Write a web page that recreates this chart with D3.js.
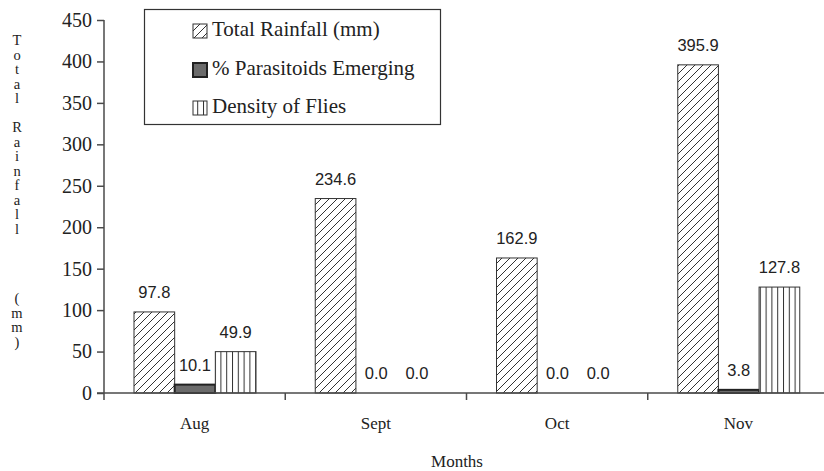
<!DOCTYPE html>
<html><head><meta charset="utf-8">
<script src="https://cdn.jsdelivr.net/npm/d3@7"></script>
<style>body{margin:0;background:#fff}svg{display:block}</style>
</head><body>
<svg id="c" width="824" height="471"></svg>
<script>
const months = ["Aug", "Sept", "Oct", "Nov"];
const seriesNames = ["Total Rainfall (mm)", "% Parasitoids Emerging", "Density of Flies"];
const rainfall = [97.8, 234.6, 162.9, 395.9];
const parasitoids = [10.1, 0.0, 0.0, 3.8];
const flies = [49.9, 0.0, 0.0, 127.8];
const yTicks = [0, 50, 100, 150, 200, 250, 300, 350, 400, 450];
const yTitleGroups = ["Total", "Rainfall", "(mm)"];
const xTitle = "Months";

const svg = d3.select("#c");
const serif = "Liberation Serif, Times New Roman, serif";
const sans = "Liberation Sans, Arial, sans-serif";
const axisColor = "#4a4a4a";

const y = d3.scaleLinear().domain([0, 450]).range([393, 20]);
const x = d3.scaleBand().domain(months).range([104, 829]).paddingInner(0).paddingOuter(0);
const inner = d3.scaleBand().domain(seriesNames).range([30, 152]);

// patterns
const defs = svg.append("defs");
const diag = defs.append("pattern").attr("id", "diag").attr("patternUnits", "userSpaceOnUse")
  .attr("width", 8).attr("height", 8);
diag.append("rect").attr("width", 8).attr("height", 8).attr("fill", "#fff");
diag.append("path").attr("d", "M-2,2 L2,-2 M0,8 L8,0 M6,10 L10,6").attr("stroke", "#333").attr("stroke-width", 1);
const vert = defs.append("pattern").attr("id", "vert").attr("patternUnits", "userSpaceOnUse")
  .attr("width", 5.8).attr("height", 10);
vert.append("rect").attr("width", 5.8).attr("height", 10).attr("fill", "#fff");
vert.append("line").attr("x1", 0.5).attr("x2", 0.5).attr("y1", 0).attr("y2", 10).attr("stroke", "#333").attr("stroke-width", 1);

const fills = ["url(#diag)", "#6b6b6b", "url(#vert)"];
const strokes = ["#333", "#222", "#333"];
const strokeW = [1, 2, 1];
const data = [rainfall, parasitoids, flies];

// bars
data.forEach((vals, si) => {
  const g = svg.append("g");
  g.selectAll("rect").data(months.map((m, i) => ({m, v: vals[i]})).filter(d => d.v > 0))
    .join("rect")
    .attr("x", d => x(d.m) + inner(seriesNames[si]))
    .attr("width", inner.bandwidth())
    .attr("y", d => y(d.v))
    .attr("height", d => y(0) - y(d.v))
    .attr("fill", fills[si]).attr("stroke", strokes[si]).attr("stroke-width", strokeW[si]);
  g.selectAll("text").data(months.map((m, i) => ({m, v: vals[i]})))
    .join("text")
    .attr("x", d => x(d.m) + inner(seriesNames[si]) + inner.bandwidth() / 2)
    .attr("y", d => y(d.v) - 14)
    .attr("text-anchor", "middle")
    .style("font-family", sans).style("font-size", "16.5px").attr("fill", "#222")
    .text(d => d.v.toFixed(1));
});

// y axis
const yAxis = svg.append("g").attr("transform", "translate(104,0)")
  .call(d3.axisLeft(y).tickValues(yTicks).tickSize(7).tickPadding(5));
yAxis.select(".domain").attr("stroke", axisColor).attr("stroke-width", 1.5).attr("d", "M0,20V393");
yAxis.selectAll(".tick line").attr("stroke", axisColor).attr("stroke-width", 1.5);
yAxis.selectAll(".tick text").style("font-family", serif).style("font-size", "20px").attr("fill", "#222");

// x axis
const xAxis = svg.append("g").attr("transform", "translate(0,393)")
  .call(d3.axisBottom(x).tickSize(0).tickPadding(24));
xAxis.select(".domain").attr("stroke", axisColor).attr("stroke-width", 1.5).attr("d", "M97,0H829");
xAxis.selectAll(".tick text").style("font-family", serif).style("font-size", "17px").attr("fill", "#222");
svg.append("g").selectAll("line").data(months)
  .join("line")
  .attr("x1", d => x(d)).attr("x2", d => x(d)).attr("y1", 393).attr("y2", 400)
  .attr("stroke", axisColor).attr("stroke-width", 1.5);

// x title
svg.append("text").attr("x", 457).attr("y", 467).attr("text-anchor", "middle")
  .style("font-family", serif).style("font-size", "17px").attr("fill", "#222").text(xTitle);

// y title (stacked letters)
const groupStart = [42, 129, 300];
const yt = svg.append("g").style("font-family", serif).style("font-size", "14.5px").attr("fill", "#222")
  .attr("text-anchor", "middle");
yTitleGroups.forEach((word, gi) => {
  word.split("").forEach((ch, ci) => {
    yt.append("text").attr("x", 17).attr("y", groupStart[gi] + ci * 14.5)
      .attr("dominant-baseline", "middle").text(ch);
  });
});

// legend
const lg = svg.append("g");
lg.append("rect").attr("x", 144.5).attr("y", 9.5).attr("width", 296).attr("height", 115)
  .attr("fill", "#fff").attr("stroke", "#333").attr("stroke-width", 1.2);
const legY = [31, 70, 108];
seriesNames.forEach((name, i) => {
  lg.append("rect").attr("x", 193).attr("y", legY[i] - 7).attr("width", 14).attr("height", 14)
    .attr("fill", fills[i]).attr("stroke", strokes[i]).attr("stroke-width", i === 1 ? 2 : 1);
  lg.append("text").attr("x", 212).attr("y", legY[i]).attr("dominant-baseline", "middle")
    .style("font-family", serif).style("font-size", "21px").attr("fill", "#222").text(name);
});
</script>
</body></html>
